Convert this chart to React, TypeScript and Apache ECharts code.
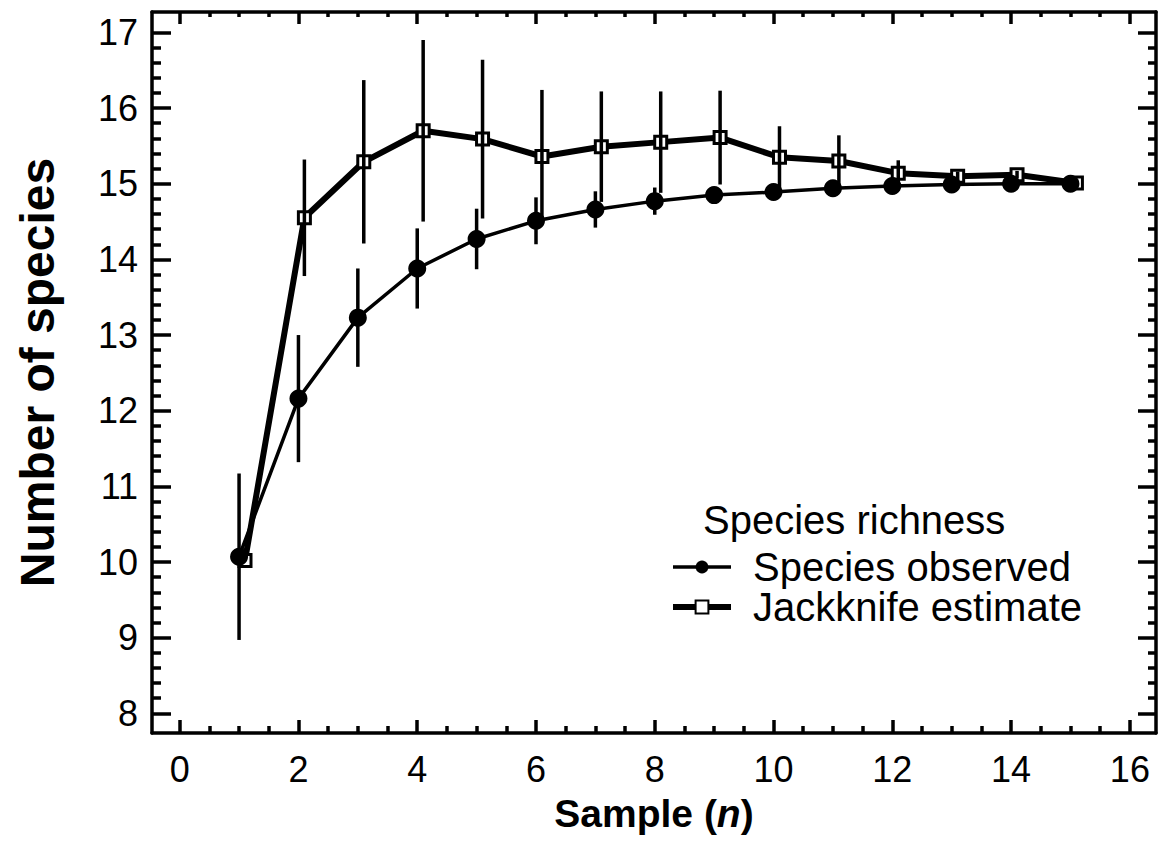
import React, { useEffect, useRef } from "react";
import * as echarts from "echarts";

// ---- data ----
const sampleN = [1, 2, 3, 4, 5, 6, 7, 8, 9, 10, 11, 12, 13, 14, 15];
const observedMean = [10.07, 12.16, 13.23, 13.88, 14.27, 14.51, 14.66, 14.77, 14.85, 14.89, 14.94, 14.97, 14.99, 15.0, 15.0];
const observedErr = [1.1, 0.84, 0.65, 0.53, 0.4, 0.31, 0.24, 0.18, 0.1, 0.06, 0.04, 0.03, 0.02, 0.01, 0.0];
const jackknifeX = [1.1, 2.1, 3.1, 4.1, 5.1, 6.1, 7.1, 8.1, 9.1, 10.1, 11.1, 12.1, 13.1, 14.1, 15.1];
const jackknifeMean = [10.02, 14.55, 15.29, 15.7, 15.59, 15.36, 15.49, 15.55, 15.61, 15.35, 15.3, 15.14, 15.1, 15.12, 15.01];
const jackknifeErr = [0.0, 0.77, 1.08, 1.2, 1.05, 0.88, 0.73, 0.67, 0.62, 0.41, 0.34, 0.17, 0.06, 0.05, 0.0];
const xTickLabels = [0, 2, 4, 6, 8, 10, 12, 14, 16];
const yTickLabels = [8, 9, 10, 11, 12, 13, 14, 15, 16, 17];

const X_MIN = -0.466;
const X_MAX = 16.44;
const Y_MIN = 7.74;
const Y_MAX = 17.27;

const FONT = "'Liberation Sans', Arial, Helvetica, sans-serif";

const xMinor: number[] = [];
for (let i = 1; i < 32; i++) {
  const v = i * 0.5;
  if (v % 2 !== 0) xMinor.push(v);
}
const yMinor: number[] = [];
for (let i = 1; i < 45; i++) {
  const v = Math.round((8 + i * 0.2) * 10) / 10;
  if (Math.abs(v - Math.round(v)) > 1e-6) yMinor.push(v);
}

const lineStyle = { color: "#000", width: 3.5 };

function xAxisDef(position: string, major: boolean, len: number, showLine: boolean, extra: any = {}) {
  return {
    type: "value",
    position,
    min: X_MIN,
    max: X_MAX,
    axisLine: { show: showLine, onZero: false, lineStyle },
    axisTick: { show: true, inside: true, length: len, customValues: major ? xTickLabels : xMinor, lineStyle },
    axisLabel: { show: false },
    splitLine: { show: false },
    ...extra,
  };
}
function yAxisDef(position: string, major: boolean, len: number, showLine: boolean, extra: any = {}) {
  return {
    type: "value",
    position,
    min: Y_MIN,
    max: Y_MAX,
    axisLine: { show: showLine, onZero: false, lineStyle },
    axisTick: { show: true, inside: true, length: len, customValues: major ? yTickLabels : yMinor, lineStyle },
    axisLabel: { show: false },
    splitLine: { show: false },
    ...extra,
  };
}

function errorBar(color: string) {
  return (params: any, api: any) => {
    const x = api.value(0);
    const lo = api.coord([x, api.value(1)]);
    const hi = api.coord([x, api.value(2)]);
    return {
      type: "line",
      shape: { x1: lo[0], y1: lo[1], x2: hi[0], y2: hi[1] },
      style: { stroke: color, lineWidth: 3.5 },
    };
  };
}

export default function App() {
  const ref = useRef<HTMLDivElement>(null);
  useEffect(() => {
    if (!ref.current) return;
    const chart = echarts.init(ref.current, null, { renderer: "svg" });
    const obsData = sampleN.map((n, i) => [n, observedMean[i]]);
    const jackData = jackknifeX.map((n, i) => [n, jackknifeMean[i]]);
    const obsBars = sampleN
      .map((n, i) => [n, observedMean[i] - observedErr[i], observedMean[i] + observedErr[i]])
      .filter((d) => d[2] - d[1] > 0);
    const jackBars = jackknifeX
      .map((n, i) => [n, jackknifeMean[i] - jackknifeErr[i], jackknifeMean[i] + jackknifeErr[i]])
      .filter((d) => d[2] - d[1] > 0);

    chart.setOption({
      animation: false,
      backgroundColor: "#fff",
      grid: { left: 152, right: 2, top: 12, bottom: 110, containLabel: false },
      xAxis: [
        xAxisDef("bottom", true, 13, true, {
          axisLabel: { show: true, customValues: xTickLabels, fontSize: 36, color: "#000", margin: 18, fontFamily: FONT },
          name: "Sample ({i|n})",
          nameLocation: "middle",
          nameGap: 61,
          nameTextStyle: {
            fontSize: 39,
            fontWeight: "bold",
            color: "#000",
            fontFamily: FONT,
            rich: { i: { fontSize: 39, fontWeight: "bold", fontStyle: "italic", color: "#000", fontFamily: FONT } },
          },
        }),
        xAxisDef("bottom", false, 7, false),
        xAxisDef("top", true, 12, true),
        xAxisDef("top", false, 5, false),
      ],
      yAxis: [
        yAxisDef("left", true, 19, true, {
          axisLabel: { show: true, customValues: yTickLabels, fontSize: 36, color: "#000", margin: 14, fontFamily: FONT },
          name: "Number of species",
          nameLocation: "middle",
          nameGap: 91,
          nameTextStyle: { fontSize: 48, fontWeight: "bold", color: "#000", fontFamily: FONT },
        }),
        yAxisDef("left", false, 9, false),
        yAxisDef("right", true, 18, true),
        yAxisDef("right", false, 8, false),
      ],
      legend: {
        data: [
          {
            name: "Species observed",
            itemStyle: { color: "#000", borderWidth: 0 },
            lineStyle: { color: "#000", width: 3.5 },
          },
          {
            name: "Jackknife estimate",
            itemStyle: { color: "#fff", borderColor: "#000", borderWidth: 2 },
            lineStyle: { color: "#000", width: 6 },
          },
        ],
        orient: "vertical",
        left: 670,
        top: 547,
        itemWidth: 58,
        itemHeight: 16,
        itemGap: 0,
        padding: 0,
        textStyle: { fontSize: 40, color: "#000", fontFamily: FONT, lineHeight: 38, padding: [0, 0, 0, 17] },
      },
      graphic: [
        {
          type: "text",
          left: 703,
          top: 500,
          style: { text: "Species richness", fontSize: 40, fill: "#000", fontFamily: FONT },
        },
      ],
      series: [
        {
          name: "Species observed",
          type: "line",
          data: obsData,
          symbol: "circle",
          symbolSize: 18,
          itemStyle: { color: "#000" },
          lineStyle: { color: "#000", width: 3.5 },
          z: 3,
        },
        {
          name: "Jackknife estimate",
          type: "line",
          data: jackData,
          symbol: "rect",
          symbolSize: 12,
          itemStyle: { color: "#fff", borderColor: "#000", borderWidth: 3 },
          lineStyle: { color: "#000", width: 6 },
          z: 2,
        },
        {
          name: "obs-err",
          type: "custom",
          data: obsBars,
          renderItem: errorBar("#000"),
          encode: { x: 0, y: [1, 2] },
          z: 4,
        },
        {
          name: "jack-err",
          type: "custom",
          data: jackBars,
          renderItem: errorBar("#000"),
          encode: { x: 0, y: [1, 2] },
          z: 4,
        },
      ],
    });
    return () => chart.dispose();
  }, []);
  return <div ref={ref} style={{ position: "absolute", left: 0, top: 0, width: 1158, height: 843 }} />;
}
